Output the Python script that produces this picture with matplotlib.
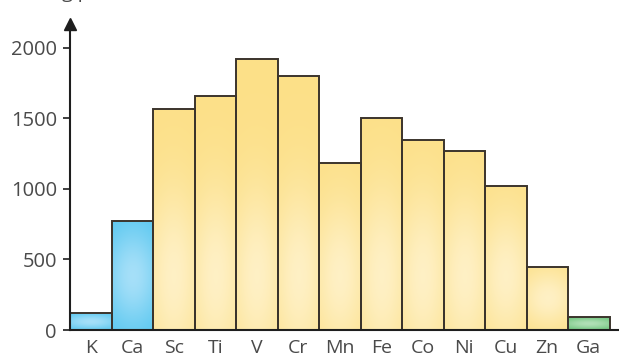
import numpy as np
import matplotlib
matplotlib.use("Agg")
import matplotlib.pyplot as plt
from matplotlib.colors import to_rgb

# Melting points of the period-4 elements, K to Ga
elements = ["K", "Ca", "Sc", "Ti", "V", "Cr", "Mn", "Fe", "Co", "Ni", "Cu", "Zn", "Ga"]
melting_points = [118, 773, 1563, 1655, 1921, 1803, 1183, 1501, 1346, 1271, 1023, 448, 90]
groups = ["s", "s", "d", "d", "d", "d", "d", "d", "d", "d", "d", "d", "p"]
y_ticks = [0, 500, 1000, 1500, 2000]
y_label = "Melting point / °C"

# block colours: (outer, inner highlight)
block_colours = {
    "s": ("#52c5ef", "#b4e4fa"),
    "d": ("#fce088", "#fff3cf"),
    "p": ("#62bf72", "#bfe6c3"),
}

plt.rcParams["font.family"] = ["Open Sans", "DejaVu Sans"]

W, H, DPI = 619, 360, 100
fig = plt.figure(figsize=(W / DPI, H / DPI), dpi=DPI)

ax_left, ax_bottom = 69.5 / W, 30 / H
ax_top = 1 - 12.5 / H
ax = fig.add_axes([ax_left, ax_bottom, 1 - ax_left, ax_top - ax_bottom])

bar_px = 41.5
x = np.arange(len(elements))
xlim = (-0.5 - 0.5 / bar_px, -0.5 + (619 - 70) / bar_px)
ylim = (0, 2250)

edge = "#3b342c"
bars = ax.bar(x, melting_points, width=1.0, color="none", edgecolor=edge,
              linewidth=1.4, zorder=3)

# soft highlight inside each bar, brightest in the lower middle
for rect, grp in zip(bars, groups):
    outer, inner = (np.array(to_rgb(c)) for c in block_colours[grp])
    x0, w = rect.get_x(), rect.get_width()
    h = rect.get_height()
    nx, ny = 60, max(int(h / 5), 20)
    xs = np.linspace(x0, x0 + w, nx)
    ys = np.linspace(0, h, ny)
    XX, YY = np.meshgrid(xs, ys)
    cy = min(h * 0.5, 380)
    sy = max(min(h * 0.5, 700), 40)
    d = ((XX - (x0 + w / 2)) / (w * 0.75)) ** 2 + ((YY - cy) / sy) ** 2
    t = 0.85 * np.exp(-d * 1.2)[..., None]
    img = outer * (1 - t) + inner * t
    im = ax.imshow(img, extent=(x0, x0 + w, 0, h), origin="lower",
                   aspect="auto", interpolation="bilinear", zorder=2)
    im.set_clip_path(rect)
    ax.add_patch(plt.Rectangle((x0, 0), w, h, facecolor=outer,
                               edgecolor="none", zorder=1.5))

ax.set_xlim(*xlim)
ax.set_ylim(*ylim)

for side in ("top", "right"):
    ax.spines[side].set_visible(False)
for side in ("left", "bottom"):
    ax.spines[side].set_color("#1e1e1e")
    ax.spines[side].set_linewidth(1.5)
    ax.spines[side].set_zorder(4)
ax.spines["left"].set_bounds(0, 2170)

# arrow head on the value axis
ax.plot([xlim[0]], [2170], marker="^", markersize=9, color="#1e1e1e",
        clip_on=False, zorder=5)

text_col = "#4a4a4a"
ax.set_yticks(y_ticks)
ax.set_yticklabels([str(v) for v in y_ticks])
ax.set_xticks(x)
ax.set_xticklabels(elements)
ax.tick_params(axis="y", length=5, width=1.2, color="#1e1e1e", pad=4,
               labelsize=14.5, labelcolor=text_col)
ax.tick_params(axis="x", length=0, pad=6.5, labelsize=14, labelcolor=text_col)

fig.text(5 / W, 1 + 1.5 / H, y_label, ha="left", va="baseline",
         fontsize=14, color=text_col)

fig.savefig("out.png", dpi=DPI)
